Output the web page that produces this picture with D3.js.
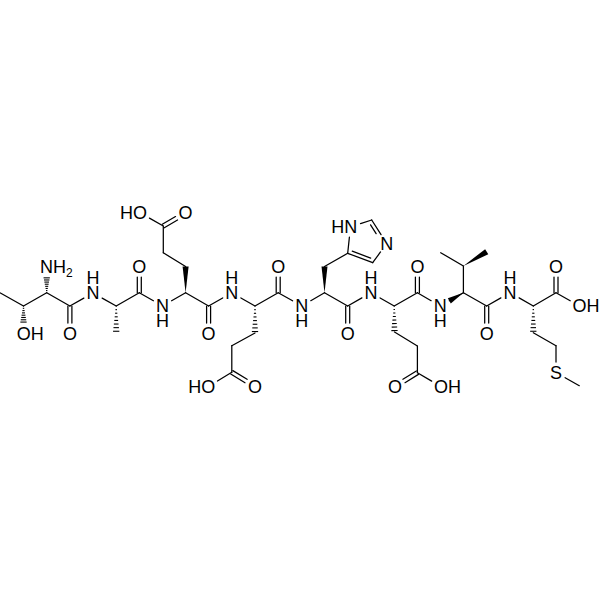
<!DOCTYPE html>
<html>
<head>
<meta charset="utf-8">
<script src="https://cdn.jsdelivr.net/npm/d3@7"></script>
<style>
    html, body { margin: 0; padding: 0; background: #fff; }
    svg { display: block; }
    text { font-family: "Liberation Sans", Arial, sans-serif; font-size: 18px; fill: #000; }
</style>
</head>
<body>
<svg id="molecule"></svg>
<script>
// Atom positions, index = atom number
const atomX = [0.4, 23.5, 46.7, 69.9, 93, 116.2, 139.3, 162.5, 185.6, 208.6, 231.8, 255, 278.2, 301.7, 324.5, 347.7, 371, 394.2, 417.4, 440.2, 463.4, 486.7, 510, 533.3, 556, 579.3,
    23.5, 46.7, 69.9, 116.2, 139.3, 185.6, 163.3, 163.3, 185.6, 140.3, 208.6, 255, 231.8, 231.8, 255, 208.5, 278.2,
    324.5, 347.7, 350.5, 371.7, 386.7, 372.7, 347.7, 394.5, 417.4, 417.4, 395, 440.7, 417.4, 463.4, 440.7, 486.7, 486.7, 556, 533.3, 556, 556, 579.3];
const atomY = [293, 306, 292.7, 306, 293, 306, 292.7, 306, 292.7, 306, 292.7, 306, 292.7, 306, 292.7, 306, 292.7, 306, 292.7, 306, 292.7, 306, 292.7, 306, 292.7, 306,
    333.5, 266.5, 333.5, 332.7, 266.5, 266.5, 252.8, 226, 213, 213, 333.5, 333, 345.7, 372.3, 386.5, 386.5, 266.5,
    266.5, 253.3, 226.7, 220, 243.5, 262.7, 333.5, 332, 346, 372.7, 386.5, 386.5, 266.5, 266, 252.7, 251.7, 333.5, 266.5, 332.7, 345.7, 372.5, 385.7];

// Bonds: s single, d double, i double with inner line, w wedge, h hash
const bondFrom = [0, 1, 2, 3, 4, 5, 6, 7, 8, 9, 10, 11, 12, 13, 14, 15, 16, 17, 18, 19, 20, 21, 22, 23, 24,
    1, 2, 3, 5, 6, 8, 31, 32, 33, 33, 9, 11, 37, 38, 39, 39, 12,
    14, 43, 44, 45, 46, 47, 48, 15, 17, 50, 51, 52, 52, 18, 20, 56, 56, 20, 21, 24, 23, 61, 62, 63];
const bondTo = [1, 2, 3, 4, 5, 6, 7, 8, 9, 10, 11, 12, 13, 14, 15, 16, 17, 18, 19, 20, 21, 22, 23, 24, 25,
    26, 27, 28, 29, 30, 31, 32, 33, 34, 35, 36, 37, 38, 39, 40, 41, 42,
    43, 44, 45, 46, 47, 48, 44, 49, 50, 51, 52, 53, 54, 55, 56, 57, 58, 19, 59, 60, 61, 62, 63, 64];
const bondKind = ["s", "s", "s", "s", "s", "s", "s", "s", "s", "s", "s", "s", "s", "s", "s", "s", "s", "s", "s", "s", "s", "s", "s", "s", "s",
    "h", "h", "d", "h", "d", "w", "s", "s", "d", "s", "d", "h", "s", "s", "d", "s", "d",
    "w", "s", "s", "s", "i", "s", "i", "d", "h", "s", "s", "d", "s", "d", "s", "s", "w", "w", "d", "d", "h", "s", "s", "s"];

// Labels: c centred, u H above, d H below, r text runs right, l text runs left
const labelAtom = [25, 26, 27, 28, 4, 7, 10, 13, 16, 19, 22, 30, 34, 35, 36, 40, 41, 42, 45, 47, 49, 53, 54, 55, 59, 60, 63];
const labelText = ["OH", "OH", "NH2", "O", "N", "N", "N", "N", "N", "N", "N", "O", "O", "HO", "O", "O", "HO", "O", "HN", "N", "O", "O", "OH", "O", "O", "O", "S"];
const labelSide = ["r", "r", "r", "c", "u", "d", "u", "d", "u", "d", "u", "c", "c", "l", "c", "c", "l", "c", "l", "c", "c", "c", "r", "c", "c", "c", "c"];

const width = 600, height = 600;
const labelRadius = 10.5;
const labelled = new Set(labelAtom);

const svg = d3.select("#molecule").attr("width", width).attr("height", height);
const xScale = d3.scaleLinear().domain([0, 600]).range([0, width]);
const yScale = d3.scaleLinear().domain([0, 600]).range([0, height]);

// Ends of a bond, pulled back from any atom that has a label
function bondEnds(i) {
    const a = bondFrom[i], b = bondTo[i];
    const x1 = xScale(atomX[a]), y1 = yScale(atomY[a]), x2 = xScale(atomX[b]), y2 = yScale(atomY[b]);
    const len = Math.hypot(x2 - x1, y2 - y1);
    const ux = (x2 - x1) / len, uy = (y2 - y1) / len;
    const t1 = labelled.has(a) ? labelRadius : 0;
    const t2 = labelled.has(b) ? labelRadius : 0;
    return { x1: x1 + ux * t1, y1: y1 + uy * t1, x2: x2 - ux * t2, y2: y2 - uy * t2, ux, uy, len: len - t1 - t2 };
}

function drawLine(g, x1, y1, x2, y2) {
    g.append("line")
        .attr("x1", x1).attr("y1", y1).attr("x2", x2).attr("y2", y2)
        .attr("stroke", "#000").attr("stroke-width", 1.25).attr("stroke-linecap", "round");
}

const bonds = svg.append("g");

bondKind.forEach((kind, i) => {
    const e = bondEnds(i);
    const nx = -e.uy, ny = e.ux;
    if (kind === "s") {
        drawLine(bonds, e.x1, e.y1, e.x2, e.y2);
    } else if (kind === "d") {
        [-2, 2].forEach(o => drawLine(bonds, e.x1 + nx * o, e.y1 + ny * o, e.x2 + nx * o, e.y2 + ny * o));
    } else if (kind === "i") {
        // second line sits on the ring centre side
        drawLine(bonds, e.x1, e.y1, e.x2, e.y2);
        const cx = d3.mean([44, 45, 46, 47, 48], a => xScale(atomX[a]));
        const cy = d3.mean([44, 45, 46, 47, 48], a => yScale(atomY[a]));
        const side = ((cx - e.x1) * nx + (cy - e.y1) * ny) > 0 ? 3.6 : -3.6;
        drawLine(bonds, e.x1 + nx * side + e.ux * 3.5, e.y1 + ny * side + e.uy * 3.5,
            e.x2 + nx * side - e.ux * 3.5, e.y2 + ny * side - e.uy * 3.5);
    } else if (kind === "w") {
        const w = 3;
        bonds.append("path")
            .attr("d", d3.line()([[e.x1, e.y1], [e.x2 + nx * w, e.y2 + ny * w], [e.x2 - nx * w, e.y2 - ny * w]]) + "Z")
            .attr("fill", "#000");
    } else if (kind === "h") {
        d3.range(1, 8).forEach(s => {
            const t = s / 7.4, w = 0.3 + 3 * t;
            const px = e.x1 + e.ux * e.len * t, py = e.y1 + e.uy * e.len * t;
            bonds.append("line")
                .attr("x1", px + nx * w).attr("y1", py + ny * w)
                .attr("x2", px - nx * w).attr("y2", py - ny * w)
                .attr("stroke", "#000").attr("stroke-width", 1.1);
        });
    }
});

const labels = svg.append("g");

labelAtom.forEach((atom, i) => {
    const x = xScale(atomX[atom]), y = yScale(atomY[atom]) + 6.4;
    const txt = labelText[i], side = labelSide[i];
    const t = labels.append("text").attr("y", y);
    if (side === "r") {
        // first letter is centred on the atom
        t.attr("x", x - 6.8).attr("text-anchor", "start");
    } else if (side === "l") {
        t.attr("x", x + 6.8).attr("text-anchor", "end");
    } else {
        t.attr("x", x).attr("text-anchor", "middle");
    }
    if (txt === "NH2") {
        t.text("NH");
        t.append("tspan").attr("dy", 4).style("font-size", "12px").text("2");
    } else if (side === "u") {
        // H and N share one text block, stacked
        t.append("tspan").attr("x", x).attr("y", y - 15).text("H");
        t.append("tspan").attr("x", x).attr("y", y).text(txt);
    } else if (side === "d") {
        t.append("tspan").attr("x", x).attr("y", y).text(txt);
        t.append("tspan").attr("x", x).attr("y", y + 15).text("H");
    } else {
        t.text(txt);
    }
});
</script>
</body>
</html>
